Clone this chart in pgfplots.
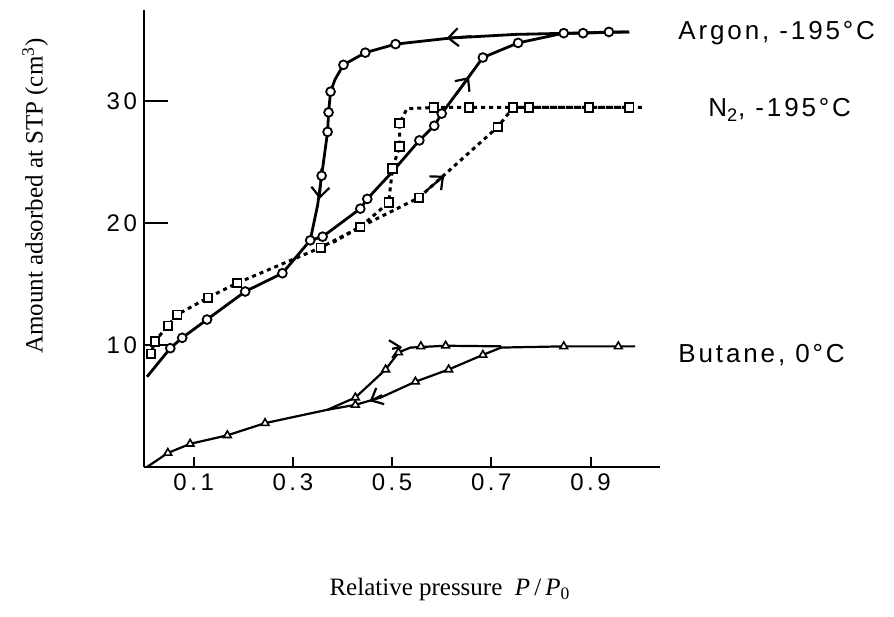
\documentclass[border=0pt]{standalone}
\usepackage{pgfplots}
\pgfplotsset{compat=1.18}
\usepackage{fontspec}
\setmainfont{Liberation Serif}
\setsansfont{Liberation Sans}
\usetikzlibrary{arrows.meta}

\begin{document}
\begin{tikzpicture}
\useasboundingbox (-72pt,-74.5pt) rectangle (375pt,233.5pt);
\begin{axis}[
    scale only axis, width=258pt, height=228.5pt,
    xmin=0, xmax=1.04, ymin=0, ymax=37.5,
    axis lines=left,
    axis line style={line width=1.3pt,-},
    xtick={0.1,0.3,0.5,0.7,0.9}, xticklabels={0.1,0.3,0.5,0.7,0.9},
    ytick={10,20,30}, yticklabels={10,20,30},
    tick align=inside,
    major tick length=5pt,
    tick style={line width=1pt,black},
    ytick style={draw=none},
    tick label style={font=\fontsize{12}{14}\sffamily\addfontfeature{LetterSpace=15}},
    /pgf/number format/assume math mode=true,
    xlabel={Relative pressure \ \textit{P}\,/\,\textit{P}\textsubscript{0}},
    ylabel={Amount adsorbed at STP (cm\textsuperscript{3})},
    label style={font=\fontsize{12.5}{15}\selectfont},
    xlabel style={at={(axis description cs:0.593,-0.269)},anchor=center},
    ylabel style={at={(axis description cs:-0.211,0.593)},anchor=center},
    clip=false,
]
% Argon -195 C, adsorption
\addplot[black,line width=1.4pt] coordinates {
    (0.006,7.4) (0.053,9.75) (0.077,10.6) (0.127,12.1) (0.204,14.4)
    (0.279,15.9) (0.335,18.6) (0.36,18.9) (0.436,21.2) (0.45,22.0)
    (0.50,24.2) (0.555,26.8) (0.585,28.0) (0.60,29.0) (0.64,31.2)
    (0.683,33.6) (0.754,34.8) (0.846,35.6) (0.885,35.6) (0.937,35.7) (0.978,35.7)
};
% Argon, desorption
\addplot[black,line width=1.4pt] coordinates {
    (0.978,35.7) (0.75,35.5) (0.618,35.2) (0.507,34.7) (0.446,34.0)
    (0.402,33.0) (0.385,31.8) (0.376,30.8) (0.372,29.1) (0.370,27.5)
    (0.358,23.9) (0.35,21.5) (0.335,18.6)
};
\addplot[only marks,mark=*,mark size=2.2pt,mark options={fill=white,draw=black,line width=0.9pt}] coordinates {
    (0.053,9.75) (0.077,10.6) (0.127,12.1) (0.204,14.4) (0.279,15.9)
    (0.335,18.6) (0.36,18.9) (0.436,21.2) (0.45,22.0) (0.555,26.8)
    (0.585,28.0) (0.60,29.0) (0.683,33.6) (0.754,34.8) (0.846,35.6)
    (0.885,35.6) (0.937,35.7)
    (0.507,34.7) (0.446,34.0) (0.402,33.0) (0.376,30.8) (0.372,29.1)
    (0.370,27.5) (0.358,23.9)
};
% N2 -195 C
\addplot[black,line width=1.5pt,dash pattern=on 2pt off 2pt] coordinates {
    (0.010,9.0) (0.014,9.3) (0.022,10.3) (0.048,11.6) (0.067,12.5)
    (0.129,13.9) (0.188,15.1) (0.356,18.0) (0.436,19.7) (0.554,22.1)
    (0.713,27.9) (0.744,29.5) (0.776,29.5) (0.897,29.5) (0.978,29.5) (1.01,29.5)
};
\addplot[black,line width=1.5pt,dash pattern=on 2pt off 2pt] coordinates {
    (0.978,29.5) (0.655,29.5) (0.584,29.5) (0.53,29.4) (0.515,28.2)
    (0.515,26.3) (0.501,24.5) (0.493,21.7) (0.436,19.7) (0.38,18.4)
};
\addplot[only marks,mark=square*,mark size=2.1pt,mark options={fill=white,draw=black,line width=0.9pt}] coordinates {
    (0.014,9.3) (0.022,10.3) (0.048,11.6) (0.067,12.5) (0.129,13.9)
    (0.188,15.1) (0.356,18.0) (0.436,19.7) (0.554,22.1) (0.713,27.9)
    (0.744,29.5) (0.776,29.5) (0.897,29.5) (0.978,29.5)
    (0.655,29.5) (0.584,29.5) (0.515,28.2) (0.515,26.3) (0.501,24.5) (0.493,21.7)
};
% Butane 0 C
\addplot[black,line width=1.1pt] coordinates {
    (0.006,0) (0.048,1.15) (0.093,1.9) (0.168,2.6) (0.244,3.6) (0.37,4.7)
    (0.426,5.1) (0.477,5.7) (0.547,7.0) (0.614,8.0) (0.683,9.2) (0.72,9.8)
    (0.846,9.9) (0.956,9.9) (0.99,9.9)
};
\addplot[black,line width=1.1pt] coordinates {
    (0.72,9.9) (0.608,9.95) (0.537,9.8) (0.513,9.4) (0.487,8.0) (0.426,5.7) (0.37,4.7)
};
\addplot[only marks,mark=triangle*,mark size=2.2pt,mark options={fill=white,draw=black,line width=0.8pt}] coordinates {
    (0.048,1.15) (0.093,1.9) (0.168,2.6) (0.244,3.6) (0.426,5.1) (0.547,7.0)
    (0.614,8.0) (0.683,9.2) (0.846,9.9) (0.956,9.9)
    (0.608,9.95) (0.558,9.9) (0.513,9.4) (0.487,8.0) (0.426,5.7)
};
% long inward y ticks
\draw[line width=1pt] (axis cs:0,10) -- ++(12pt,0);
\draw[line width=1pt] (axis cs:0,20) -- ++(12pt,0);
\draw[line width=1pt] (axis cs:0,30) -- ++(12pt,0);
% direction arrows
\begin{scope}[-{Straight Barb[length=5pt,width=9pt]},line width=1.1pt]
\draw (axis cs:0.66,35.35) -- (axis cs:0.61,35.2);
\draw (axis cs:0.358,24.5) -- (axis cs:0.354,22.0);
\draw (axis cs:0.63,30.6) -- (axis cs:0.655,32.0);
\draw (axis cs:0.57,22.7) -- (axis cs:0.605,23.9);
\draw (axis cs:0.50,9.7) -- (axis cs:0.52,9.85);
\draw (axis cs:0.48,5.9) -- (axis cs:0.455,5.4);
\end{scope}
% series labels
\begin{scope}[font=\fontsize{13}{15}\sffamily\addfontfeature{LetterSpace=11}]
\node[anchor=west] at (axis cs:1.063,35.6) {Argon, -195°C};
\node[anchor=west] at (axis cs:1.123,29.3) {N\textsubscript{2}, -195°C};
\node[anchor=west] at (axis cs:1.063,9.2) {Butane, 0°C};
\end{scope}
\end{axis}
\end{tikzpicture}
\end{document}
